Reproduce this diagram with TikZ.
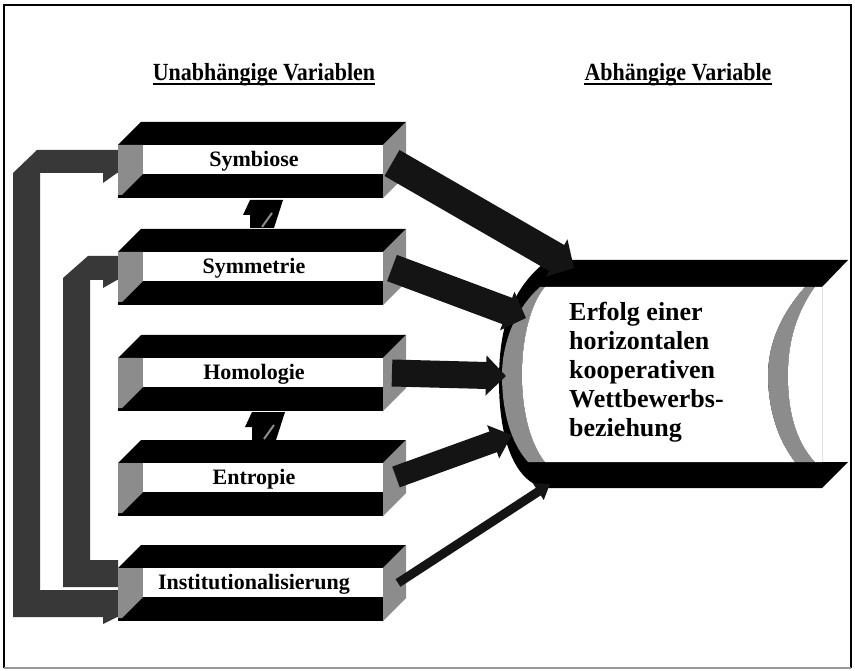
\documentclass[tikz,border=0pt]{standalone}
\usepackage{fontspec}
\setmainfont{Liberation Serif}
\usetikzlibrary{arrows.meta}
\newcommand\varbox[3]{%
  \fill[black] (118,#1) -- (141,#1-23) -- (406,#1-23) -- (383,#1) -- cycle;
  \fill[black] (118,#1+29) rectangle (383,#1+53);
  \fill[face] (383,#1) -- (406,#1-23) -- (406,#1+30) -- (383,#1+53) -- cycle;
  \fill[face] (118,#1) -- (143,#1) -- (143,#1+29) -- (122,#1+50) -- (118,#1+50) -- cycle;
  \fill[white] (143,#1) rectangle (383,#1+29);
  \node[boxlabel] (#2) at (254,#1+21.5) {#3};
}
\begin{document}
\begin{tikzpicture}[x=1pt,y=-1pt,
  face/.style={fill=black!45},
  loopbar/.style={fill=black!78},
  boxlabel/.style={font=\bfseries\fontsize{22pt}{24pt}\selectfont, inner sep=0pt, anchor=base},
  titlelabel/.style={font=\bfseries\fontsize{22pt}{24pt}\selectfont, inner sep=0pt, anchor=base},
  bigarrow/.style={draw=black!92, line width=#1, -{Triangle[length=20pt,width=12pt 1]}},
  thinarrow/.style={draw=black!92, line width=#1, -{Triangle[length=14pt,width=10pt 1]}},
]
\useasboundingbox (0,0) rectangle (855,671);
\fill[white] (0,0) rectangle (855,671);
\draw[line width=1.2pt] (4,668) -- (4,5) -- (851,5) -- (851,668);
\draw[line width=1.2pt, black!40] (4,668) -- (851,668);

% titles
\node[titlelabel] (tleft) at (264,81) {\scalebox{1}[1.12]{Unabhängige Variablen}};
\node[titlelabel] (tright) at (678,81) {\scalebox{1}[1.12]{Abhängige Variable}};
\draw[line width=1.5pt] ([yshift=-3pt]tleft.base west) -- ([yshift=-3pt]tleft.base east);
\draw[line width=1.5pt] ([yshift=-3pt]tright.base west) -- ([yshift=-3pt]tright.base east);

% feedback loops
\fill[loopbar] (13,617) -- (13,173) -- (37,150) -- (118,150) -- (118,173) -- (40,173) -- (40,590) -- (118,590) -- (118,617) -- cycle;
\fill[loopbar] (103,173) -- (117,173) -- (103,183) -- cycle;
\fill[loopbar] (103,617) -- (117,617) -- (103,624) -- cycle;
\fill[loopbar] (63,587) -- (63,278) -- (88,256) -- (118,256) -- (118,280) -- (90,280) -- (90,560) -- (118,560) -- (118,587) -- cycle;
\fill[loopbar] (103,280) -- (117,280) -- (103,288) -- cycle;

% boxes
\varbox{145}{symbiose}{Symbiose}
\varbox{252}{symmetrie}{Symmetrie}
\varbox{358}{homologie}{Homologie}
\varbox{463}{entropie}{Entropie}
\varbox{568}{inst}{Institutionalisierung}

% small double arrows
\fill[black] (243,215) -- (250,200) -- (283,200) -- (274,228) -- (250,228) -- (250,215) -- cycle;
\draw[black!45, line width=2pt] (262,227) -- (272,213);
\begin{scope}[shift={(2,212)}]
\fill[black] (243,215) -- (250,200) -- (283,200) -- (274,228) -- (250,228) -- (250,215) -- cycle;
\draw[black!45, line width=2pt] (262,227) -- (272,213);
\end{scope}

% target shape
\fill[black] (548,260) -- (848,260) -- (822,287) -- (822,462) -- (848,462) -- (822,488) -- (545,488)
  .. controls (515,482) and (498,440) .. (499,375) .. controls (500,320) and (515,285) .. (548,260) -- cycle;
\fill[face] (540,287) .. controls (514,310) and (502,345) .. (502,375) .. controls (502,410) and (510,442) .. (528,462)
  -- (545,462) .. controls (528,440) and (522,405) .. (522,375) .. controls (522,340) and (530,305) .. (545,287) -- cycle;
\fill[white] (545,287) -- (805,287) .. controls (780,315) and (768,345) .. (768,375) .. controls (768,410) and (778,440) .. (795,462)
  -- (545,462) .. controls (528,440) and (522,405) .. (522,375) .. controls (522,340) and (530,305) .. (545,287) -- cycle;
\fill[face] (805,287) .. controls (780,315) and (768,345) .. (768,375) .. controls (768,410) and (778,440) .. (795,462)
  -- (815,462) .. controls (795,440) and (788,410) .. (788,375) .. controls (788,345) and (795,315) .. (815,287) -- cycle;
\fill[white] (815,287) .. controls (795,315) and (788,345) .. (788,375) .. controls (788,410) and (795,440) .. (815,462)
  -- (822,462) -- (822,287) -- cycle;
\node[font=\bfseries\fontsize{26pt}{29pt}\selectfont, align=left, inner sep=0pt, anchor=north west] (erfolg) at (569,302)
  {Erfolg einer\\horizontalen\\kooperativen\\Wettbewerbs-\\beziehung};

% big arrows
\coordinate (s1) at (392,163); \coordinate (t1) at (574,268);
\coordinate (s2) at (392,268); \coordinate (t2) at (526,318);
\coordinate (s3) at (392,373); \coordinate (t3) at (506,376);
\coordinate (s4) at (396,477); \coordinate (t4) at (512,435);
\coordinate (s5) at (398,583); \coordinate (t5) at (550,484);
\draw[bigarrow=30pt] (s1) -- (t1);
\draw[bigarrow=28pt] (s2) -- (t2);
\draw[bigarrow=27pt] (s3) -- (t3);
\draw[bigarrow=22pt] (s4) -- (t4);
\draw[thinarrow=9pt] (s5) -- (t5);
\end{tikzpicture}
\end{document}
